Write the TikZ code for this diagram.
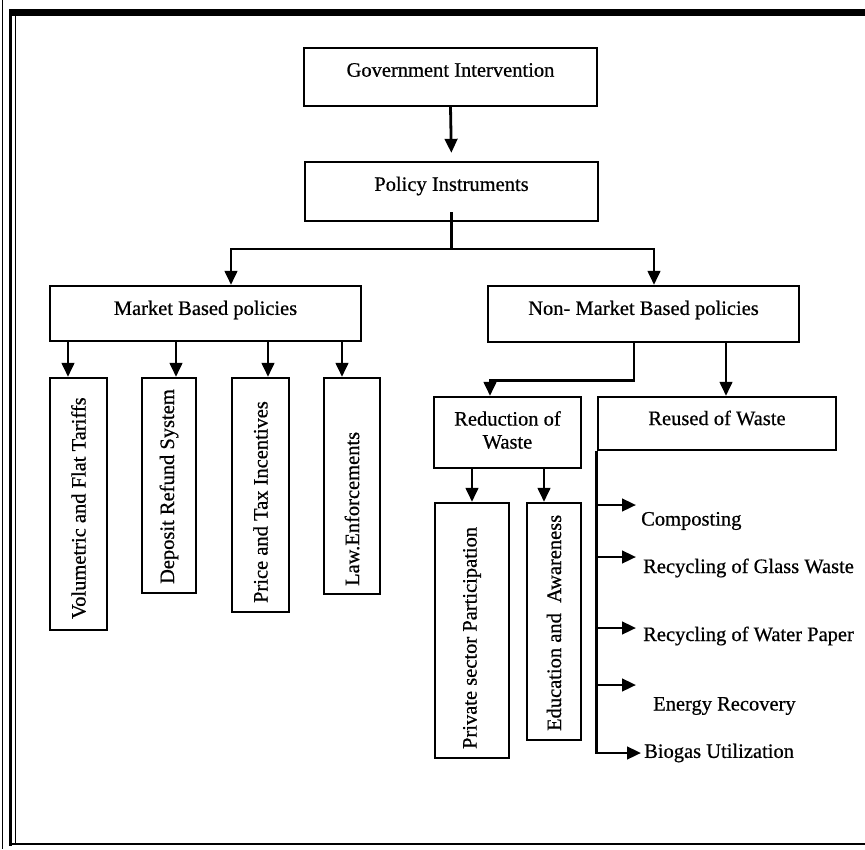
\documentclass[tikz,border=0pt]{standalone}
\usepackage{fontspec}
\setmainfont{Liberation Serif}
\newfontfamily\scanfont{Liberation Serif}[FakeBold=0.6]
\usetikzlibrary{arrows.meta}
\begin{document}
\begin{tikzpicture}[x=1pt,y=-1pt,
  box/.style={draw, line width=2.3pt, inner sep=0pt},
  txt/.style={font=\scanfont\fontsize{20.5}{23}\selectfont, inner sep=0pt, align=center},
  vtxt/.style={txt, rotate=90, anchor=west},
  rtxt/.style={txt, anchor=west},
  arr/.style={line width=2.8pt, -{Triangle[length=14pt,width=12.5pt]}},
  ln/.style={line width=2.2pt}]
\useasboundingbox (0,0) rectangle (865,849);
% frame
\draw[line width=1pt] (2,0) -- (2,849);
\draw[line width=3pt] (10.5,9) -- (10.5,846);
\draw[line width=1.8pt] (15.5,14) -- (15.5,845);
\draw[line width=7pt] (9,12) -- (865,12);
\draw[line width=2pt] (9,844) -- (865,844);
% boxes
\node[box, minimum width=293, minimum height=58] (gov) at (450.5,77) {};
\node[box, minimum width=293, minimum height=59] (pol) at (451.5,191.5) {};
\node[box, minimum width=311, minimum height=55] (mkt) at (205.5,313.5) {};
\node[box, minimum width=311, minimum height=56] (nmk) at (643.5,314) {};
\node[box, minimum width=57, minimum height=252] (v1) at (78.5,504) {};
\node[box, minimum width=54, minimum height=215] (v2) at (169,485.5) {};
\node[box, minimum width=57, minimum height=234] (v3) at (260.5,495) {};
\node[box, minimum width=56, minimum height=216] (v4) at (352,486) {};
\node[box, minimum width=147, minimum height=71] (red) at (507.5,432.5) {};
\node[box, minimum width=238, minimum height=53] (reu) at (717,423.5) {};
\node[box, minimum width=74, minimum height=255] (p1) at (472,630.5) {};
\node[box, minimum width=54, minimum height=237] (p2) at (554,621.5) {};
% texts
\node[txt] (govt) at (450.5,70) {Government Intervention};
\node[txt] (polt) at (451.5,186) {Policy Instruments};
\node[txt] (mktt) at (205.5,310) {Market Based policies};
\node[txt] (nmkt) at (643.5,310) {Non- Market Based policies};
\node[txt] (redt) at (507.5,430) {Reduction of\\Waste};
\node[txt] (reut) at (717,418) {Reused of Waste};
\node[vtxt] (v1t) at ([yshift=12pt]v1.south) {Volumetric and Flat Tariffs};
\node[vtxt] (v2t) at ([yshift=10pt]v2.south) {Deposit Refund System};
\node[vtxt] (v3t) at ([yshift=10pt]v3.south) {Price and Tax Incentives};
\node[vtxt] (v4t) at ([yshift=9pt]v4.south) {Law.Enforcements};
\node[vtxt] (p1t) at ([yshift=10pt]p1.south) {Private sector Participation};
\node[vtxt] (p2t) at ([yshift=10pt]p2.south) {Education and~ Awareness};
\node[rtxt] (r1) at (641,521) {Composting};
\node[rtxt] (r2) at (643,568) {Recycling of Glass Waste};
\node[rtxt] (r3) at (643,636) {Recycling of Water Paper};
\node[rtxt] (r4) at (653,706) {Energy Recovery};
\node[rtxt] (r5) at (644,753) {Biogas Utilization};
% connectors
\draw[arr, shorten >=8pt] (gov.south) -- (pol.north);
\coordinate (split) at (451.5,249);
\draw[ln] ([yshift=10pt]pol.south) -- (split);
\draw[arr] (split) -| ([xshift=25.5pt]mkt.north);
\draw[arr] (split) -| ([xshift=10.5pt]nmk.north);
\draw[arr] ([xshift=-10.5pt]v1.north |- mkt.south) -- ([xshift=-10.5pt]v1.north);
\draw[arr] ([xshift=7pt]v2.north |- mkt.south) -- ([xshift=7pt]v2.north);
\draw[arr] ([xshift=7.5pt]v3.north |- mkt.south) -- ([xshift=7.5pt]v3.north);
\draw[arr] ([xshift=-10pt]v4.north |- mkt.south) -- ([xshift=-10pt]v4.north);
\draw[arr] ([xshift=-9.5pt]nmk.south) -- ++(0,37) -| ([xshift=-17.5pt]red.north);
\draw[arr] ([xshift=9pt]reu.north |- nmk.south) -- ([xshift=9pt]reu.north);
\draw[arr] (p1.north |- red.south) -- (p1.north);
\draw[arr] ([xshift=-10pt]p2.north |- red.south) -- ([xshift=-10pt]p2.north);
\coordinate (c1) at (636,505);
\coordinate (c2) at (636,557);
\coordinate (c3) at (636,628);
\coordinate (c4) at (636,685);
\coordinate (c5) at (641,753);
\draw[arr] (reu.south west) |- (c5);
\draw[arr] (reu.south west |- c1) -- (c1);
\draw[arr] (reu.south west |- c2) -- (c2);
\draw[arr] (reu.south west |- c3) -- (c3);
\draw[arr] (reu.south west |- c4) -- (c4);
\end{tikzpicture}
\end{document}
